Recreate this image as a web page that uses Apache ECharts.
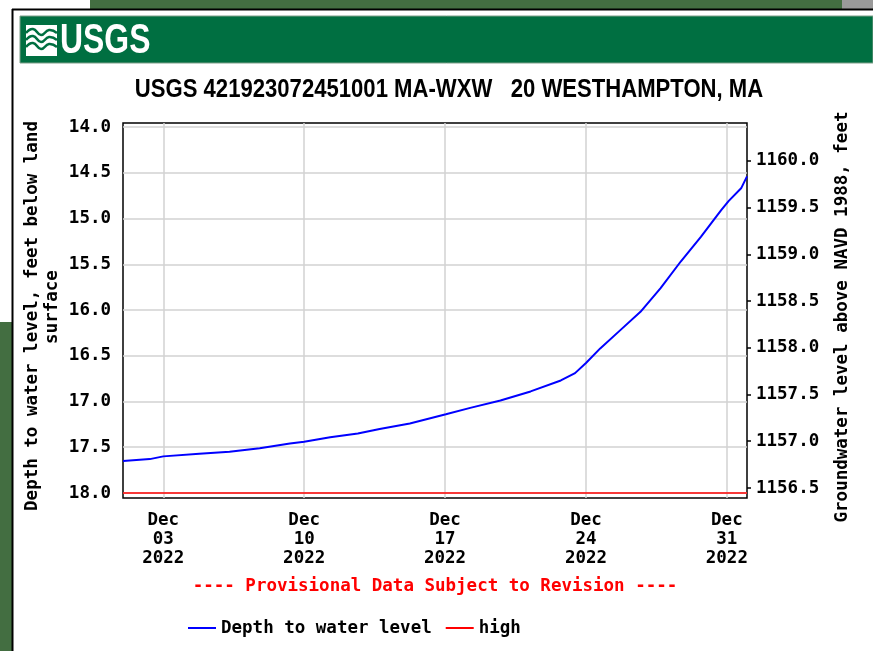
<!DOCTYPE html>
<html>
<head>
<meta charset="utf-8">
<script src="https://cdn.jsdelivr.net/npm/echarts@6/dist/echarts.min.js"></script>
<style>
  html, body { margin: 0; padding: 0; background: #ffffff; }
  #chart { width: 873px; height: 651px; }
</style>
</head>
<body>
<div id="chart"></div>
<script>
// Site and chart text
const siteTitle = 'USGS 421923072451001 MA-WXW   20 WESTHAMPTON, MA';
const leftAxisTitle = ['Depth to water level, feet below land', 'surface'];
const rightAxisTitle = 'Groundwater level above NAVD 1988, feet';
const provisionalNote = '---- Provisional Data Subject to Revision ----';
const seriesNames = ['Depth to water level', 'high'];

// Depth to water level, feet below land surface
const depthTimes = [
  '2022-12-01 00:00', '2022-12-02 08:00', '2022-12-03 00:00', '2022-12-04 19:00',
  '2022-12-06 07:00', '2022-12-07 19:00', '2022-12-09 07:00', '2022-12-10 00:00',
  '2022-12-11 07:00', '2022-12-12 16:00', '2022-12-13 18:00', '2022-12-15 06:00',
  '2022-12-17 01:00', '2022-12-18 06:00', '2022-12-19 18:00', '2022-12-21 06:00',
  '2022-12-22 18:00', '2022-12-23 11:00', '2022-12-24 00:00', '2022-12-24 17:00',
  '2022-12-25 17:00', '2022-12-26 17:00', '2022-12-27 17:00', '2022-12-28 17:00',
  '2022-12-29 17:00', '2022-12-30 17:00', '2022-12-31 02:00', '2022-12-31 17:00',
  '2023-01-01 00:00'
];
const depthValues = [
  17.65, 17.63, 17.60, 17.57,
  17.55, 17.51, 17.46, 17.44,
  17.39, 17.35, 17.30, 17.24,
  17.14, 17.07, 16.99, 16.89,
  16.77, 16.69, 16.58, 16.42,
  16.22, 16.02, 15.76, 15.47,
  15.20, 14.91, 14.81, 14.67,
  14.54
];

// "high" reference level
const highTimes = ['2022-12-01 00:00', '2023-01-01 00:00'];
const highValues = [18.0, 18.0];

// Axis ranges and tick labels
const timeRange = ['2022-12-01 00:00', '2023-01-01 00:00'];
const dateTicks = ['2022-12-03 00:00', '2022-12-10 00:00', '2022-12-17 00:00', '2022-12-24 00:00', '2022-12-31 00:00'];
const depthRange = [13.956, 18.055];
const depthTicks = [14.0, 14.5, 15.0, 15.5, 16.0, 16.5, 17.0, 17.5, 18.0];
const levelRange = [1156.393, 1160.404];
const levelTicks = [1156.5, 1157.0, 1157.5, 1158.0, 1158.5, 1159.0, 1159.5, 1160.0];

const monthNames = ['Jan','Feb','Mar','Apr','May','Jun','Jul','Aug','Sep','Oct','Nov','Dec'];
const pad2 = n => (n < 10 ? '0' : '') + n;

// The x axis runs in days elapsed since the start of the period.
const parseStamp = s => {
  const m = s.match(/(\d+)-(\d+)-(\d+)\s+(\d+):(\d+)/);
  return new Date(+m[1], +m[2] - 1, +m[3], +m[4], +m[5]);
};
const DAY_MS = 86400000;
const origin = parseStamp(timeRange[0]);
const toDay = s => Math.round((parseStamp(s) - origin) / DAY_MS * 1000) / 1000;
const dayLabel = d => {
  const t = new Date(origin.getTime() + Math.round(d * 24) * 3600000);
  return monthNames[t.getMonth()] + '\n' + pad2(t.getDate()) + '\n' + t.getFullYear();
};
const dayTicks = dateTicks.map(toDay);

const MONO = '"DejaVu Sans Mono", "Liberation Mono", monospace';
const MONO_SIZE = 17.5;
const monoBold = size => 'bold ' + size + 'px ' + MONO;
const monoText = { fontFamily: MONO, fontSize: MONO_SIZE, fontWeight: 'bold', color: '#000000' };

const chart = echarts.init(document.getElementById('chart'), null, { renderer: 'canvas' });

const option = {
  animation: false,
  backgroundColor: 'transparent',
  grid: {
    left: 123, right: 126, top: 123, bottom: 153,
    show: true, borderColor: '#000000', borderWidth: 1.5,
    backgroundColor: '#ffffff', containLabel: false
  },
  xAxis: {
    type: 'value',
    min: toDay(timeRange[0]), max: toDay(timeRange[1]),
    axisLine: { show: false },
    axisTick: { show: false, customValues: dayTicks },
    splitLine: { show: true, lineStyle: { color: '#d2d2d2', width: 1.5 } },
    axisLabel: Object.assign({
      customValues: dayTicks,
      margin: 13,
      lineHeight: 19,
      align: 'center',
      formatter: v => dayLabel(v)
    }, monoText)
  },
  yAxis: [
    {
      type: 'value', inverse: true,
      min: depthRange[0], max: depthRange[1],
      axisLine: { show: false },
      axisTick: { show: false, customValues: depthTicks },
      splitLine: { show: true, lineStyle: { color: '#d2d2d2', width: 1.5 } },
      axisLabel: Object.assign({
        customValues: depthTicks,
        margin: 12,
        padding: [5, 0, 0, 0],
        formatter: v => v.toFixed(1)
      }, monoText)
    },
    {
      type: 'value', position: 'right',
      min: levelRange[0], max: levelRange[1],
      axisLine: { show: false },
      axisTick: { show: true, inside: false, length: 4, customValues: levelTicks,
                  lineStyle: { color: '#000000', width: 1.5 } },
      splitLine: { show: false },
      axisLabel: Object.assign({
        customValues: levelTicks,
        margin: 9,
        padding: [5, 0, 0, 0],
        formatter: v => v.toFixed(1)
      }, monoText)
    }
  ],
  legend: {
    left: 188, top: 619, padding: 0,
    itemWidth: 28, itemHeight: 2, itemGap: 14,
    icon: 'rect',
    data: seriesNames,
    textStyle: Object.assign({}, monoText)
  },
  series: [
    {
      name: seriesNames[0], type: 'line', yAxisIndex: 0,
      data: depthTimes.map((t, i) => [toDay(t), depthValues[i]]),
      showSymbol: false, symbol: 'none',
      itemStyle: { color: '#0000ff' },
      lineStyle: { color: '#0000ff', width: 2 },
      z: 3
    },
    {
      name: seriesNames[1], type: 'line', yAxisIndex: 0,
      data: highTimes.map((t, i) => [toDay(t), highValues[i]]),
      showSymbol: false, symbol: 'none',
      itemStyle: { color: '#ff0000' },
      lineStyle: { color: '#ff0000', width: 1.5 },
      z: 2
    }
  ],
  graphic: [
    // page frame and surrounding background
    { type: 'rect', z: -10, shape: { x: 90, y: 0, width: 752, height: 9 }, style: { fill: '#436e41' } },
    { type: 'rect', z: -10, shape: { x: 842, y: 0, width: 31, height: 9 }, style: { fill: '#9a9a9a' } },
    { type: 'rect', z: -10, shape: { x: 0, y: 322, width: 12, height: 329 }, style: { fill: '#436e41' } },
    { type: 'line', z: -9, shape: { x1: 12, y1: 9.5, x2: 873, y2: 9.5 }, style: { stroke: '#000000', lineWidth: 2 } },
    { type: 'line', z: -9, shape: { x1: 12.5, y1: 9, x2: 12.5, y2: 651 }, style: { stroke: '#000000', lineWidth: 2 } },
    // USGS header band
    { type: 'rect', z: -8, shape: { x: 20, y: 16, width: 853, height: 47 }, style: { fill: '#006f41', stroke: '#7f9f8a', lineWidth: 1 } },
    { type: 'rect', z: -7, shape: { x: 26, y: 25, width: 31, height: 31 }, style: { fill: '#ffffff' } },
    { type: 'polyline', z: -6, shape: { points: [[26, 33], [33, 29], [41, 35], [49, 30], [57, 33]], smooth: 0.5 }, style: { stroke: '#006f41', lineWidth: 2.5, fill: null } },
    { type: 'polyline', z: -6, shape: { points: [[26, 40], [33, 36], [41, 42], [49, 37], [57, 40]], smooth: 0.5 }, style: { stroke: '#006f41', lineWidth: 2.5, fill: null } },
    { type: 'polyline', z: -6, shape: { points: [[26, 47], [33, 43], [41, 49], [49, 44], [57, 47]], smooth: 0.5 }, style: { stroke: '#006f41', lineWidth: 2.5, fill: null } },
    { type: 'text', z: -6, x: 60, y: 41, scaleX: 0.76,
      style: { text: 'USGS', fill: '#ffffff', font: 'bold 42px "Liberation Sans", Arial, sans-serif', textAlign: 'left', textVerticalAlign: 'middle' } },
    // chart title
    { type: 'text', x: 449, y: 90, scaleX: 0.85,
      style: { text: siteTitle, fill: '#000000', font: 'bold 26px "Liberation Sans", Arial, sans-serif', textAlign: 'center', textVerticalAlign: 'middle' } },
    // axis titles
    { type: 'text', x: 32, y: 316, rotation: Math.PI / 2,
      style: { text: leftAxisTitle[0], fill: '#000000', font: monoBold(MONO_SIZE), textAlign: 'center', textVerticalAlign: 'middle' } },
    { type: 'text', x: 52, y: 307, rotation: Math.PI / 2,
      style: { text: leftAxisTitle[1], fill: '#000000', font: monoBold(MONO_SIZE), textAlign: 'center', textVerticalAlign: 'middle' } },
    { type: 'text', x: 842, y: 317, rotation: Math.PI / 2,
      style: { text: rightAxisTitle, fill: '#000000', font: monoBold(MONO_SIZE), textAlign: 'center', textVerticalAlign: 'middle' } },
    // provisional data note
    { type: 'text', x: 435, y: 586,
      style: { text: provisionalNote, fill: '#ff0000', font: monoBold(MONO_SIZE), textAlign: 'center', textVerticalAlign: 'middle' } }
  ]
};

chart.setOption(option);
</script>
</body>
</html>
